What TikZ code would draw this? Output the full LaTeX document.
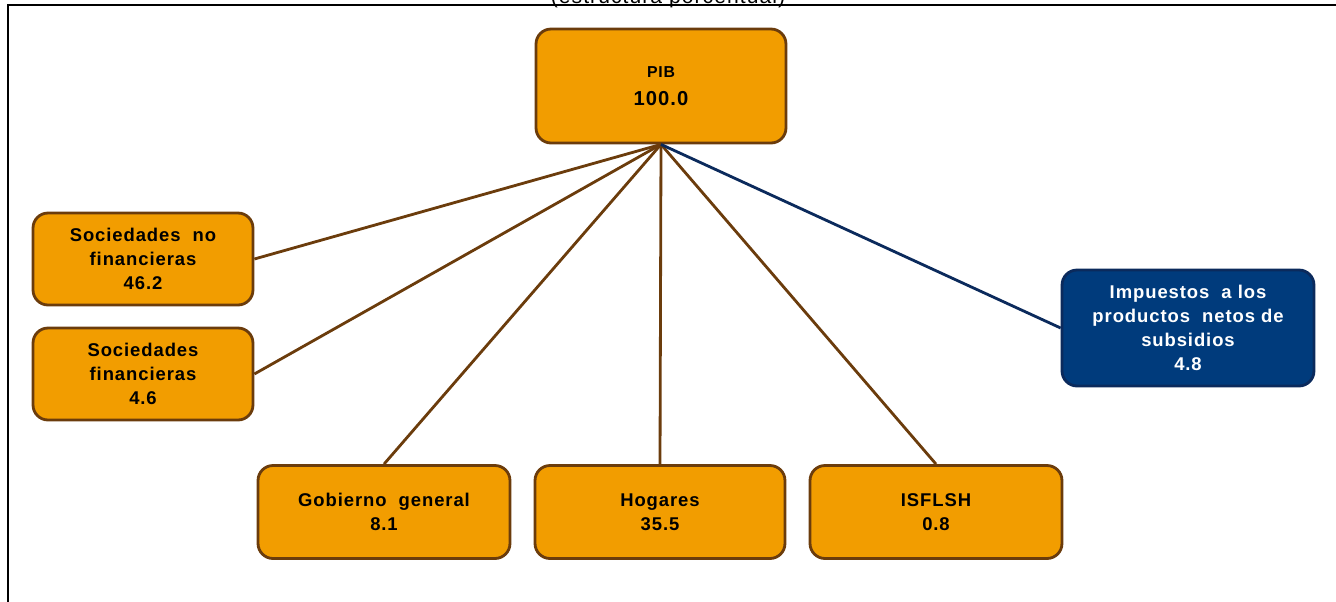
\documentclass[tikz,border=0pt]{standalone}
\usepackage{fontspec}
\setmainfont{Liberation Sans}
\newfontfamily\cajafont[LetterSpace=5]{Liberation Sans}
\definecolor{naranja}{HTML}{F29D00}
\definecolor{cafe}{HTML}{6B3C0C}
\definecolor{azul}{HTML}{003B7C}
\definecolor{azulborde}{HTML}{0B2A5C}
\begin{document}
\begin{tikzpicture}[x=0.02cm,y=-0.02cm,
		caja/.style={draw=cafe, fill=naranja, line width=1.6pt, rounded corners=0.3cm,
			align=center, font=\cajafont\fontsize{10.5}{13.6}\selectfont\bfseries, inner sep=0pt},
		cajaazul/.style={caja, draw=azulborde, fill=azul, text=white},
		rama/.style={draw=cafe, line width=1.6pt}]
		\useasboundingbox (0,0) rectangle (1336,602);
		\draw[line width=0.8pt] (8,602) -- (8,5) -- (1336,5);
		\node[anchor=base, font=\cajafont\fontsize{12}{14}\selectfont] (titulo) at (668,3) {(estructura porcentual)};
		\node[caja, minimum width=5cm, minimum height=2.28cm] (pib) at (661,86)
			{{\fontsize{9}{10}\selectfont PIB}\\[2pt]{\fontsize{11.5}{13}\selectfont 100.0}};
		\node[caja, minimum width=4.4cm, minimum height=1.84cm] (snf) at (143,259) {Sociedades\ \ no\\financieras\\46.2};
		\node[caja, minimum width=4.4cm, minimum height=1.84cm] (sf) at (143,374) {Sociedades\\financieras\\4.6};
		\node[caja, minimum width=5.04cm, minimum height=1.86cm] (gob) at (384,512) {Gobierno\ \ general\\8.1};
		\node[caja, minimum width=5cm, minimum height=1.86cm] (hog) at (660,512) {Hogares\\35.5};
		\node[caja, minimum width=5.04cm, minimum height=1.86cm] (isf) at (936,512) {ISFLSH\\0.8};
		\node[cajaazul, minimum width=5.04cm, minimum height=2.32cm] (imp) at (1188,328)
			{Impuestos\ \ a los\\productos\ \ netos\ de\\subsidios\\4.8};
		\coordinate (raiz) at (pib.south);
		\draw[rama] (raiz) -- (snf.east);
		\draw[rama] (raiz) -- (sf.east);
		\draw[rama] (raiz) -- (gob.north);
		\draw[rama] (raiz) -- (hog.north);
		\draw[rama] (raiz) -- (isf.north);
		\draw[rama, draw=azulborde] (raiz) -- (imp.west);
	\end{tikzpicture}
\end{document}
